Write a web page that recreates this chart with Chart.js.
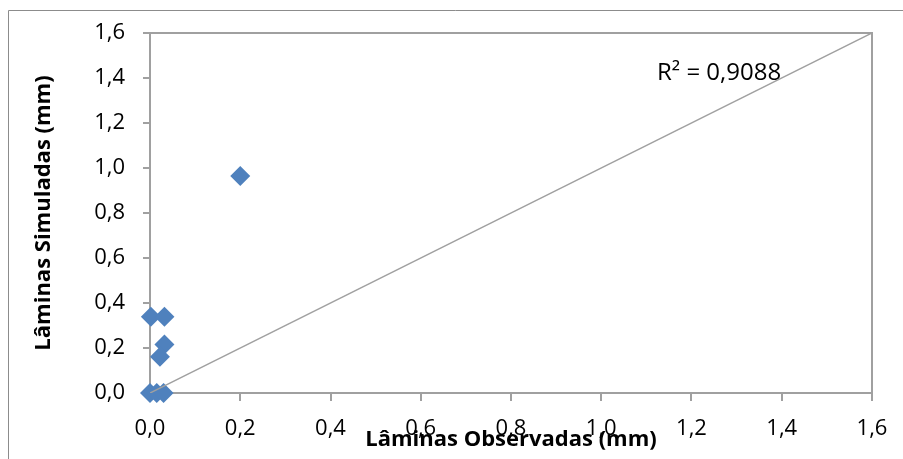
<!DOCTYPE html>
<html>
<head>
<meta charset="utf-8">
<script src="https://cdn.jsdelivr.net/npm/chart.js@4"></script>
<style>
  html, body { margin: 0; padding: 0; background: #fff; }
  canvas { display: block; }
</style>
</head>
<body>
<canvas id="chart" width="903" height="459"></canvas>
<script>
// observed vs simulated depths (mm)
const observadas = [0.2, 0.002, 0.032, 0.032, 0.022, 0.0, 0.015, 0.03];
const simuladas = [0.965, 0.339, 0.339, 0.216, 0.161, 0.0, 0.0, 0.0];
const linha11 = [0, 1.6];
const tickMin = 0;
const tickMax = 1.6;
const tickStep = 0.2;
const r2Label = 'R² = 0,9088';

const gray = '#a0a0a0';
const blue = '#4f81bd';
const fmt = v => v.toFixed(1).replace('.', ',');

const frame = {
  id: 'frame',
  beforeDraw(chart) {
    const ctx = chart.ctx;
    ctx.save();
    ctx.strokeStyle = '#8c8c8c';
    ctx.lineWidth = 1;
    ctx.beginPath();
    ctx.moveTo(8.5, 459);
    ctx.lineTo(8.5, 10.5);
    ctx.lineTo(903, 10.5);
    ctx.stroke();
    ctx.restore();
  },
  beforeDatasetsDraw(chart) {
    const { ctx, chartArea: a } = chart;
    ctx.save();
    ctx.strokeStyle = gray;
    ctx.lineWidth = 2;
    ctx.beginPath();
    ctx.moveTo(a.left, a.top);
    ctx.lineTo(a.right, a.top);
    ctx.lineTo(a.right, a.bottom);
    ctx.stroke();
    ctx.fillStyle = '#000';
    ctx.font = '24px "Open Sans"';
    ctx.textBaseline = 'alphabetic';
    ctx.fillText(r2Label, a.right - 215, a.top + 47);
    ctx.restore();
  }
};

// eslint-disable-next-line no-unused-vars
const scatter = new Chart(document.getElementById('chart'), {
  type: 'scatter',
  data: {
    datasets: [{
      type: 'line',
      data: linha11.map(v => ({ x: v, y: v })),
      borderColor: gray,
      borderWidth: 1.5,
      pointRadius: 0,
      fill: false
    }, {
      data: observadas.map((x, i) => ({ x: x, y: simuladas[i] })),
      pointStyle: 'rectRot',
      pointRadius: 10,
      pointHoverRadius: 10,
      backgroundColor: blue,
      borderColor: blue,
      borderWidth: 0,
      clip: false
    }]
  },
  options: {
    responsive: false,
    animation: false,
    layout: { padding: { left: 0, right: 31, top: 33, bottom: 0 } },
    plugins: { legend: { display: false }, tooltip: { enabled: false } },
    scales: {
      x: {
        type: 'linear',
        min: tickMin,
        max: tickMax,
        afterFit: s => { s.height = 66; },
        ticks: { stepSize: tickStep, callback: fmt, padding: 15, color: '#000', font: { family: 'Open Sans', size: 22 } },
        grid: { drawOnChartArea: false, tickLength: 8, color: gray, lineWidth: 2 },
        border: { color: gray, width: 2 },
        title: {
          display: true,
          text: 'Lâminas Observadas (mm)',
          color: '#000',
          font: { family: 'Open Sans', size: 22, weight: 'bold' },
          padding: { top: 0, bottom: 6 }
        }
      },
      y: {
        type: 'linear',
        min: tickMin,
        max: tickMax,
        afterFit: s => { s.width = 150; },
        ticks: { stepSize: tickStep, callback: fmt, padding: 18, color: '#000', font: { family: 'Open Sans', size: 22 } },
        grid: { drawOnChartArea: false, tickLength: 7, color: gray, lineWidth: 2 },
        border: { color: gray, width: 2 },
        title: {
          display: true,
          text: 'Lâminas Simuladas (mm)',
          color: '#000',
          font: { family: 'Open Sans', size: 22, weight: 'bold' },
          padding: { top: 31, bottom: 0 }
        }
      }
    }
  },
  plugins: [frame]
});
</script>
</body>
</html>
